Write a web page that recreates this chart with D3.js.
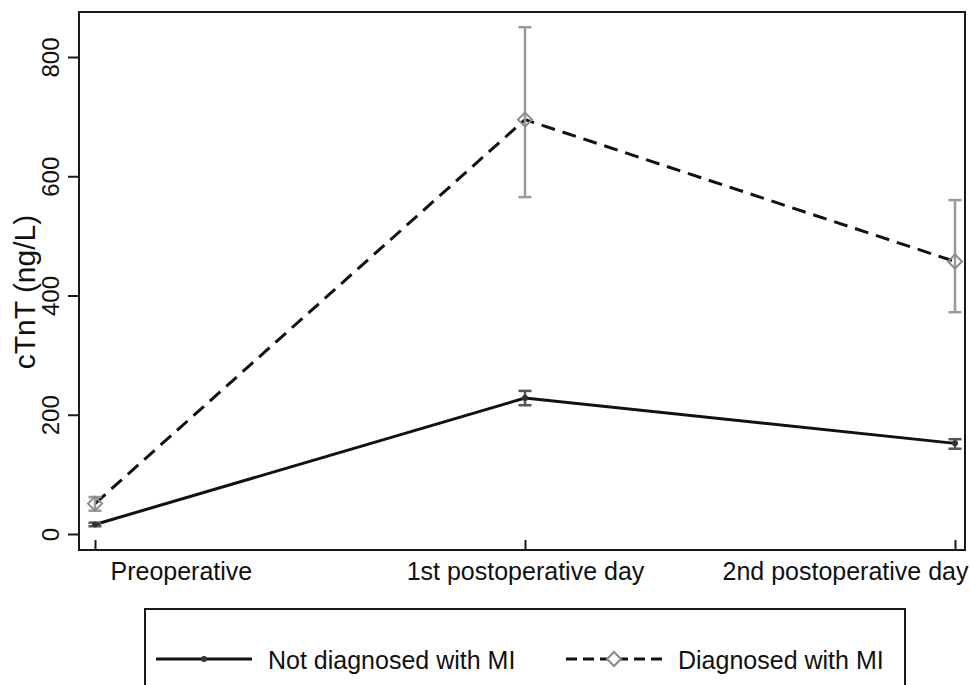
<!DOCTYPE html>
<html>
<head>
<meta charset="utf-8">
<script src="https://d3js.org/d3.v7.min.js"></script>
<style>
  body { margin: 0; background: #fff; font-family: 'Liberation Sans', Arial, sans-serif; }
</style>
</head>
<body>
<div id="chart"></div>
<script>
// data
const days = ["Preoperative", "1st postoperative day", "2nd postoperative day"];
const notMI = [16, 228, 152];
const notMILo = [13, 216, 143];
const notMIHi = [19, 240, 159];
const withMI = [51, 695, 457];
const withMILo = [39, 565, 372];
const withMIHi = [62, 850, 560];
const yTicks = [0, 200, 400, 600, 800];
const seriesNames = ["Not diagnosed with MI", "Diagnosed with MI"];

const W = 970, H = 685;
const frame = {left: 79, top: 12, right: 965, bottom: 550};

const svg = d3.select("#chart").append("svg")
    .attr("width", W).attr("height", H)
    .style("font-family", "'Liberation Sans', Arial, sans-serif");

const x = d3.scalePoint().domain(days).range([95, 955]);
const y = d3.scaleLinear().domain([0, 800]).range([534, 57]);

// plot frame
svg.append("rect")
    .attr("x", frame.left).attr("y", frame.top)
    .attr("width", frame.right - frame.left).attr("height", frame.bottom - frame.top)
    .attr("fill", "none").attr("stroke", "#1a1a1a").attr("stroke-width", 2);

// y axis
const yAxis = svg.append("g")
    .attr("transform", `translate(${frame.left},0)`)
    .call(d3.axisLeft(y).tickValues(yTicks).tickSize(11).tickPadding(0));
yAxis.select(".domain").remove();
yAxis.selectAll(".tick line").attr("stroke", "#1a1a1a").attr("stroke-width", 2);
yAxis.selectAll(".tick text")
    .attr("x", 0).attr("dy", null)
    .attr("transform", "translate(-20,0) rotate(-90)")
    .attr("text-anchor", "middle")
    .attr("font-size", 24).attr("fill", "#111");

svg.append("text")
    .attr("transform", "translate(35,292) rotate(-90)")
    .attr("text-anchor", "middle")
    .attr("font-size", 30).attr("fill", "#111")
    .text("cTnT (ng/L)");

// x axis, ticks point inward
const xAxis = svg.append("g")
    .attr("transform", `translate(0,${frame.bottom})`)
    .call(d3.axisBottom(x).tickSizeInner(-10).tickSizeOuter(0));
xAxis.select(".domain").remove();
xAxis.selectAll(".tick line").attr("stroke", "#1a1a1a").attr("stroke-width", 2);
xAxis.selectAll(".tick text")
    .attr("y", 30).attr("dy", null)
    .attr("font-size", 25).attr("fill", "#111")
    .attr("text-anchor", (d, i) => i === 0 ? "start" : (i === days.length - 1 ? "end" : "middle"))
    .attr("x", (d, i) => i === 0 ? 15 : (i === days.length - 1 ? 13 : 0));

// lines
const line = vals => d3.line().x((d, i) => x(days[i])).y(d => y(d))(vals);

svg.append("path").attr("d", line(notMI))
    .attr("fill", "none").attr("stroke", "#111").attr("stroke-width", 3);
svg.append("path").attr("d", line(withMI))
    .attr("fill", "none").attr("stroke", "#111").attr("stroke-width", 3)
    .attr("stroke-dasharray", "14,8");

// error bars
function errorBars(lo, hi, color) {
  const g = svg.append("g").attr("stroke", color).attr("stroke-width", 2.5);
  days.forEach((d, i) => {
    g.append("line").attr("x1", x(d)).attr("x2", x(d)).attr("y1", y(lo[i])).attr("y2", y(hi[i]));
    [lo[i], hi[i]].forEach(v => {
      g.append("line").attr("x1", x(d) - 6.5).attr("x2", x(d) + 6.5).attr("y1", y(v)).attr("y2", y(v));
    });
  });
}
errorBars(notMILo, notMIHi, "#555");
errorBars(withMILo, withMIHi, "#9a9a9a");

// markers
svg.append("g").selectAll("circle").data(notMI).join("circle")
    .attr("cx", (d, i) => x(days[i])).attr("cy", d => y(d)).attr("r", 3)
    .attr("fill", "#333");

const diamond = (cx, cy, s) => `M${cx},${cy - s}L${cx + s},${cy}L${cx},${cy + s}L${cx - s},${cy}Z`;
svg.append("g").selectAll("path").data(withMI).join("path")
    .attr("d", (d, i) => diamond(x(days[i]), y(d), 7))
    .attr("fill", "none").attr("stroke", "#8a8a8a").attr("stroke-width", 2);

// legend
const lg = svg.append("g");
lg.append("rect").attr("x", 145).attr("y", 609).attr("width", 760).attr("height", 120)
    .attr("fill", "none").attr("stroke", "#1a1a1a").attr("stroke-width", 2);

const ly = 659;
lg.append("line").attr("x1", 156).attr("x2", 252).attr("y1", ly).attr("y2", ly)
    .attr("stroke", "#111").attr("stroke-width", 3);
lg.append("circle").attr("cx", 204).attr("cy", ly).attr("r", 3).attr("fill", "#333");
lg.append("text").attr("x", 268).attr("y", 669).attr("font-size", 25).attr("fill", "#111")
    .text(seriesNames[0]);

lg.append("line").attr("x1", 566).attr("x2", 662).attr("y1", ly).attr("y2", ly)
    .attr("stroke", "#111").attr("stroke-width", 3).attr("stroke-dasharray", "11,6");
lg.append("path").attr("d", diamond(614, ly, 7))
    .attr("fill", "#fff").attr("stroke", "#8a8a8a").attr("stroke-width", 2);
lg.append("text").attr("x", 678).attr("y", 669).attr("font-size", 25).attr("fill", "#111")
    .text(seriesNames[1]);
</script>
</body>
</html>
